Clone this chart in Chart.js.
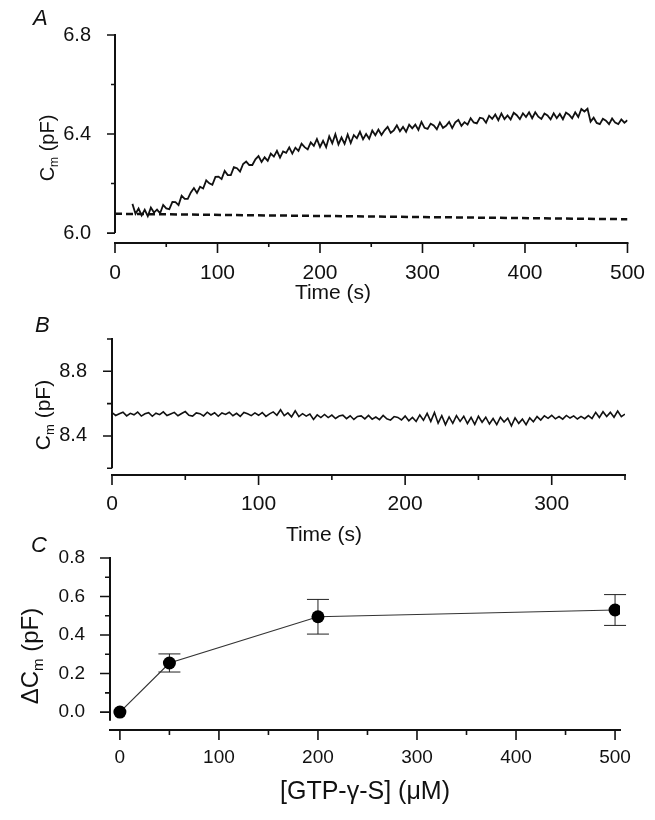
<!DOCTYPE html>
<html>
<head>
<meta charset="utf-8">
<script src="https://cdn.jsdelivr.net/npm/chart.js@4.4.0/dist/chart.umd.min.js"></script>
<style>
  body { margin: 0; background: #fff; }
  #wrap { position: relative; width: 655px; height: 820px; overflow: hidden; }
  canvas { position: absolute; left: 0; }
  .tag { position: absolute; font: italic 22px "Liberation Sans", Arial, sans-serif; line-height: 1; color: #111; }
</style>
</head>
<body>
<div id="wrap">
  <canvas id="chartA" width="655" height="310" style="top:0"></canvas>
  <canvas id="chartB" width="655" height="240" style="top:310px"></canvas>
  <canvas id="chartC" width="655" height="292" style="top:528px"></canvas>
  <div class="tag" style="left:33px;top:7px">A</div>
  <div class="tag" style="left:35px;top:314px">B</div>
  <div class="tag" style="left:31px;top:534px">C</div>
</div>
<script>
// panel A: Cm trace, sampled every 3 s from 17 s
const aStart = 17;
const aStep = 3;
const aCm = [
  6.118, 6.078, 6.099, 6.071, 6.094, 6.068, 6.103, 6.083, 6.095, 6.080,
  6.114, 6.100, 6.097, 6.126, 6.125, 6.113, 6.151, 6.138, 6.138, 6.164,
  6.182, 6.162, 6.187, 6.180, 6.213, 6.201, 6.195, 6.227, 6.228, 6.218,
  6.251, 6.234, 6.234, 6.266, 6.262, 6.248, 6.279, 6.289, 6.275, 6.275,
  6.298, 6.311, 6.287, 6.306, 6.292, 6.321, 6.309, 6.332, 6.305, 6.330,
  6.324, 6.346, 6.321, 6.345, 6.332, 6.361, 6.347, 6.338, 6.366, 6.352,
  6.380, 6.348, 6.373, 6.347, 6.391, 6.363, 6.399, 6.358, 6.386, 6.360,
  6.398, 6.364, 6.396, 6.383, 6.409, 6.379, 6.400, 6.381, 6.414, 6.395,
  6.418, 6.396, 6.415, 6.429, 6.405, 6.415, 6.435, 6.411, 6.429, 6.409,
  6.438, 6.423, 6.438, 6.417, 6.449, 6.425, 6.421, 6.442, 6.435, 6.419,
  6.447, 6.425, 6.433, 6.449, 6.424, 6.447, 6.457, 6.433, 6.448, 6.438,
  6.464, 6.447, 6.443, 6.466, 6.463, 6.446, 6.474, 6.461, 6.479, 6.456,
  6.483, 6.460, 6.475, 6.459, 6.486, 6.476, 6.460, 6.484, 6.469, 6.488,
  6.464, 6.488, 6.470, 6.461, 6.483, 6.475, 6.459, 6.484, 6.464, 6.481,
  6.460, 6.487, 6.478, 6.463, 6.488, 6.469, 6.501, 6.491, 6.502, 6.450,
  6.466, 6.445, 6.440, 6.462, 6.454, 6.440, 6.463, 6.446, 6.440, 6.459,
  6.446, 6.456
];
const aBaseTime = [0, 500];
const aBaseCm = [6.078, 6.056];
const aXTicks = [0, 50, 100, 150, 200, 250, 300, 350, 400, 450, 500];
const aXLabels = ["0", "100", "200", "300", "400", "500"];
const aYTicks = [6.0, 6.2, 6.4, 6.6, 6.8];
const aYLabels = ["6.0", "6.4", "6.8"];

// panel B: Cm trace, sampled every 2.5 s from 0 s
const bStart = 0;
const bStep = 2.5;
const bCm = [
  8.545, 8.527, 8.538, 8.547, 8.524, 8.540, 8.531, 8.548, 8.523, 8.537,
  8.544, 8.522, 8.541, 8.532, 8.549, 8.526, 8.536, 8.546, 8.525, 8.539,
  8.551, 8.528, 8.523, 8.543, 8.538, 8.524, 8.547, 8.530, 8.544, 8.522,
  8.542, 8.533, 8.547, 8.525, 8.540, 8.521, 8.545, 8.537, 8.526, 8.543,
  8.528, 8.545, 8.521, 8.537, 8.549, 8.528, 8.562, 8.526, 8.543, 8.518,
  8.556, 8.520, 8.538, 8.523, 8.536, 8.502, 8.530, 8.514, 8.533, 8.514,
  8.529, 8.508, 8.523, 8.529, 8.507, 8.525, 8.502, 8.521, 8.524, 8.506,
  8.527, 8.504, 8.517, 8.501, 8.527, 8.506, 8.498, 8.520, 8.515, 8.499,
  8.523, 8.494, 8.515, 8.490, 8.530, 8.497, 8.540, 8.490, 8.545, 8.479,
  8.525, 8.470, 8.518, 8.478, 8.526, 8.490, 8.522, 8.477, 8.515, 8.472,
  8.522, 8.485, 8.516, 8.474, 8.508, 8.470, 8.516, 8.486, 8.510, 8.462,
  8.512, 8.478, 8.504, 8.470, 8.512, 8.488, 8.520, 8.498, 8.525, 8.509,
  8.528, 8.506, 8.520, 8.504, 8.527, 8.511, 8.524, 8.505, 8.521, 8.507,
  8.526, 8.508, 8.546, 8.514, 8.550, 8.520, 8.546, 8.516, 8.554, 8.520,
  8.535
];
const bXTicks = [0, 50, 100, 150, 200, 250, 300, 350];
const bXLabels = ["0", "100", "200", "300"];
const bYTicks = [8.2, 8.4, 8.6, 8.8, 9.0];
const bYLabels = ["8.4", "8.8"];

// panel C: dose response
const cConc = [0, 50, 200, 500];
const cDelta = [0, 0.255, 0.495, 0.53];
const cErr = [0, 0.047, 0.09, 0.08];
const cXTicks = [0, 50, 100, 150, 200, 250, 300, 350, 400, 450, 500];
const cXLabels = ["0", "100", "200", "300", "400", "500"];
const cYTicks = [0, 0.1, 0.2, 0.3, 0.4, 0.5, 0.6, 0.7, 0.8];
const cYLabels = ["0.0", "0.2", "0.4", "0.6", "0.8"];

// axis titles, [text, isSubscript]
const timeTitle = [["Time (s)", false]];
const cmTitle = [["C", false], ["m", true], [" (pF)", false]];
const dcmTitle = [["ΔC", false], ["m", true], [" (pF)", false]];
const concTitle = [["[GTP-γ-S] (μM)", false]];

const FONT = "'Liberation Sans', Arial, 'DejaVu Sans', sans-serif";
Chart.defaults.font.family = FONT;
Chart.defaults.color = "#111";

function fixedTicks(values) {
  return (scale) => { scale.ticks = values.map((v) => ({ value: v })); };
}
function labelsFrom(list, digits) {
  return (v) => { const s = Number(v).toFixed(digits); return list.includes(s) ? s : ""; };
}

function drawRich(ctx, parts, size, cx, cy, vertical) {
  ctx.save();
  ctx.translate(cx, cy);
  if (vertical) ctx.rotate(-Math.PI / 2);
  ctx.fillStyle = "#111";
  ctx.textBaseline = "middle";
  ctx.textAlign = "left";
  const fontOf = (p) => (p[1] ? Math.round(size * 0.62) : size) + "px " + FONT;
  const widths = parts.map((p) => { ctx.font = fontOf(p); return ctx.measureText(p[0]).width; });
  let x = -widths.reduce((a, b) => a + b, 0) / 2;
  parts.forEach((p, i) => {
    ctx.font = fontOf(p);
    ctx.fillText(p[0], x, p[1] ? size * 0.32 : 0);
    x += widths[i];
  });
  ctx.restore();
}

// axes drawn like the paper: y line stops at its last tick, x line sits below
function framePlugin(cfg) {
  return {
    id: "frame",
    afterDraw(chart) {
      const { ctx, chartArea } = chart;
      const x = chart.scales.x, y = chart.scales.y;
      const ax = chartArea.left;
      const ay = chartArea.bottom;
      ctx.save();
      ctx.strokeStyle = "#111";
      ctx.lineWidth = 2;
      ctx.beginPath();
      ctx.moveTo(ax, y.getPixelForValue(cfg.yTo) - 1);
      ctx.lineTo(ax, y.getPixelForValue(cfg.yFrom));
      ctx.moveTo(x.getPixelForValue(cfg.xFrom) - 1, ay);
      ctx.lineTo(x.getPixelForValue(cfg.xTo) + 1, ay);
      ctx.stroke();
      ctx.lineWidth = 1.6;
      ctx.beginPath();
      y.ticks.forEach((t) => {
        const py = y.getPixelForValue(t.value);
        const len = t.label ? cfg.yMajor : cfg.yMinor;
        ctx.moveTo(ax - len, py);
        ctx.lineTo(ax, py);
      });
      x.ticks.forEach((t) => {
        const px = x.getPixelForValue(t.value);
        const len = t.label ? cfg.xMajor : cfg.xMinor;
        ctx.moveTo(px, ay);
        ctx.lineTo(px, ay + len);
      });
      ctx.stroke();
      ctx.restore();
      drawRich(ctx, cfg.xTitle, cfg.xTitleSize, cfg.xTitlePos[0], cfg.xTitlePos[1], false);
      drawRich(ctx, cfg.yTitle, cfg.yTitleSize, cfg.yTitlePos[0], cfg.yTitlePos[1], true);
    },
  };
}

const errorBars = {
  id: "errorBars",
  beforeDatasetsDraw(chart) {
    const { ctx } = chart;
    const x = chart.scales.x, y = chart.scales.y;
    ctx.save();
    ctx.strokeStyle = "#222";
    ctx.lineWidth = 1;
    ctx.beginPath();
    cConc.forEach((c, i) => {
      if (!cErr[i]) return;
      const px = x.getPixelForValue(c);
      const top = y.getPixelForValue(cDelta[i] + cErr[i]);
      const bot = y.getPixelForValue(cDelta[i] - cErr[i]);
      ctx.moveTo(px, top); ctx.lineTo(px, bot);
      ctx.moveTo(px - 11, top); ctx.lineTo(px + 11, top);
      ctx.moveTo(px - 11, bot); ctx.lineTo(px + 11, bot);
    });
    ctx.stroke();
    ctx.restore();
  },
};

function baseScales(o) {
  return {
    x: {
      type: "linear", min: o.xMin, max: o.xMax,
      afterFit: (s) => { s.height = o.xHeight; },
      afterBuildTicks: fixedTicks(o.xTicks),
      grid: { display: false }, border: { display: false },
      ticks: { autoSkip: false, maxRotation: 0, padding: o.xPad, font: { size: o.xFont }, callback: labelsFrom(o.xLabels, 0) },
    },
    y: {
      type: "linear", min: o.yMin, max: o.yMax,
      afterFit: (s) => { s.width = o.yWidth; },
      afterBuildTicks: fixedTicks(o.yTicks),
      grid: { display: false }, border: { display: false },
      ticks: { autoSkip: false, padding: o.yPad, font: { size: o.yFont }, callback: labelsFrom(o.yLabels, 1) },
    },
  };
}

const commonPlugins = { legend: { display: false }, tooltip: { enabled: false } };

new Chart(document.getElementById("chartA"), {
  type: "line",
  data: {
    datasets: [
      {
        data: aCm.map((v, i) => ({ x: aStart + i * aStep, y: v })),
        borderColor: "#111", borderWidth: 1.8, pointRadius: 0, tension: 0,
      },
      {
        data: aBaseTime.map((t, i) => ({ x: t, y: aBaseCm[i] })),
        borderColor: "#111", borderWidth: 2.5, borderDash: [7, 4], pointRadius: 0,
      },
    ],
  },
  options: {
    responsive: false, animation: false,
    layout: { padding: { top: 35, right: 25, left: 0, bottom: 0 } },
    plugins: commonPlugins,
    scales: baseScales({
      xMin: 0, xMax: 500, xHeight: 67, xTicks: aXTicks, xLabels: aXLabels, xPad: 10, xFont: 21,
      yMin: 5.96, yMax: 6.8, yWidth: 115, yTicks: aYTicks, yLabels: aYLabels, yPad: 16, yFont: 20,
    }),
  },
  plugins: [framePlugin({
    yFrom: 6.0, yTo: 6.8, xFrom: 0, xTo: 500, yMajor: 8, yMinor: 4, xMajor: 10, xMinor: 4,
    xTitle: timeTitle, xTitleSize: 21, xTitlePos: [333, 293],
    yTitle: cmTitle, yTitleSize: 20, yTitlePos: [48, 148],
  })],
});

new Chart(document.getElementById("chartB"), {
  type: "line",
  data: {
    datasets: [
      {
        data: bCm.map((v, i) => ({ x: bStart + i * bStep, y: v })),
        borderColor: "#111", borderWidth: 1.6, pointRadius: 0, tension: 0,
      },
    ],
  },
  options: {
    responsive: false, animation: false,
    layout: { padding: { top: 23, right: 30, left: 0, bottom: 0 } },
    plugins: commonPlugins,
    scales: baseScales({
      xMin: 0, xMax: 350, xHeight: 75, xTicks: bXTicks, xLabels: bXLabels, xPad: 9, xFont: 21,
      yMin: 8.1585, yMax: 9.0, yWidth: 112, yTicks: bYTicks, yLabels: bYLabels, yPad: 17, yFont: 20,
    }),
  },
  plugins: [framePlugin({
    yFrom: 8.2, yTo: 9.0, xFrom: 0, xTo: 350, yMajor: 9, yMinor: 5, xMajor: 10, xMinor: 5,
    xTitle: timeTitle, xTitleSize: 21, xTitlePos: [324, 225],
    yTitle: cmTitle, yTitleSize: 21, yTitlePos: [44, 105],
  })],
});

new Chart(document.getElementById("chartC"), {
  type: "line",
  data: {
    datasets: [
      {
        data: cConc.map((c, i) => ({ x: c, y: cDelta[i] })),
        borderColor: "#333", borderWidth: 1.2, tension: 0,
        pointRadius: 6.5, pointBackgroundColor: "#000", pointBorderColor: "#000", pointBorderWidth: 0,
      },
    ],
  },
  options: {
    responsive: false, animation: false,
    layout: { padding: { top: 30, right: 35, left: 0, bottom: 0 } },
    plugins: commonPlugins,
    scales: baseScales({
      xMin: -10, xMax: 505, xHeight: 90, xTicks: cXTicks, xLabels: cXLabels, xPad: 8, xFont: 19,
      yMin: -0.093, yMax: 0.8, yWidth: 110, yTicks: cYTicks, yLabels: cYLabels, yPad: 17, yFont: 19,
    }),
  },
  plugins: [errorBars, framePlugin({
    yFrom: -0.045, yTo: 0.8, xFrom: -10, xTo: 505, yMajor: 10, yMinor: 5, xMajor: 10, xMinor: 5,
    xTitle: concTitle, xTitleSize: 25, xTitlePos: [365, 264],
    yTitle: dcmTitle, yTitleSize: 24, yTitlePos: [31, 128],
  })],
});
</script>
</body>
</html>
